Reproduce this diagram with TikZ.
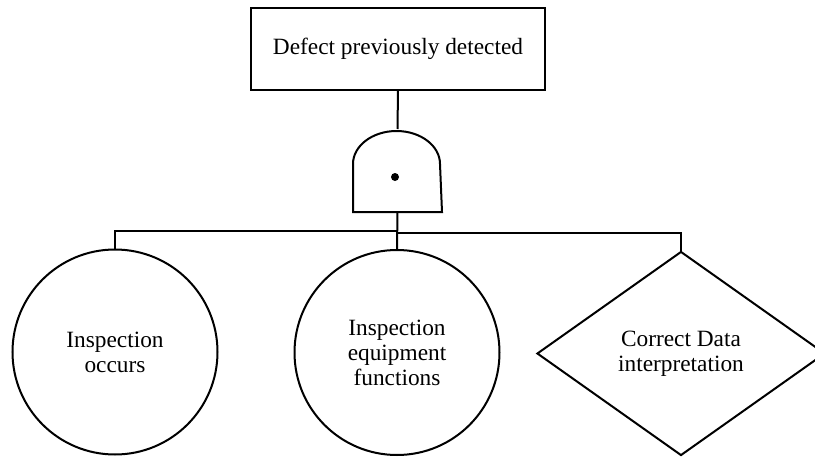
\documentclass[tikz,border=0pt]{standalone}
\usepackage{fontspec}
\setmainfont{Liberation Serif}
\usetikzlibrary{shapes.geometric}
\begin{document}
\begin{tikzpicture}[x=0.75pt,y=-0.75pt,
  line width=1.5pt, line join=miter,
  lbl/.style={font=\fontsize{17.5}{18.75}\selectfont, align=center, text=black},
  eventbox/.style={lbl, draw, rectangle, inner sep=0pt, minimum width=220.5pt, minimum height=61.5pt},
  basic/.style={lbl, draw, circle, inner sep=0pt, minimum size=153.75pt},
  undeveloped/.style={lbl, draw, diamond, inner sep=0pt, minimum width=216pt, minimum height=153pt},
  gatebox/.style={rectangle, inner sep=0pt, minimum width=65.25pt, minimum height=60.75pt}]
  \clip (0,0) rectangle (815,457);
  \fill[white] (0,0) rectangle (815,457);

  % top event
  \node[eventbox] (top) at (398,49) {Defect previously detected};

  % AND gate
  \node[gatebox] (gate) at (397.5,170.5) {};
  \draw (gate.south west) -- ++(0,-48) arc[start angle=180, end angle=0, x radius=43.5, y radius=-33]
        -- (gate.south east) -- cycle;
  \fill (395,177) circle[radius=4];

  % inputs
  \node[basic] (occ) at (115,352) {Inspection\\occurs};
  \node[basic] (equip) at (397,352.5) {Inspection\\equipment\\functions};
  \node[undeveloped] (interp) at (681,353.5) {Correct Data\\interpretation};

  % connectors
  \coordinate (busL) at (397,231);
  \coordinate (busR) at (397,233);
  \draw (top.south) -- (gate.north);
  \draw (gate.south) -- (equip.north);
  \draw (occ.north) |- (busL);
  \draw (interp.north) |- (busR);
\end{tikzpicture}
\end{document}
